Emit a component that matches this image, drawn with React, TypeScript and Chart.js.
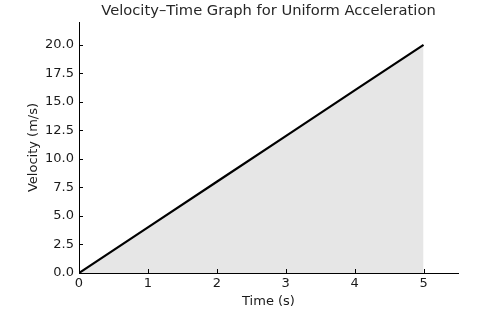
import React, { useEffect, useRef } from "react";
import { Chart, registerables } from "chart.js";

Chart.register(...registerables);

const times = [0, 1, 2, 3, 4, 5];
const velocities = [0, 4, 8, 12, 16, 20];
const xTicks = [0, 1, 2, 3, 4, 5];
const yTicks = [0, 2.5, 5, 7.5, 10, 12.5, 15, 17.5, 20];
const titleText = "Velocity–Time Graph for Uniform Acceleration";
const xLabel = "Time (s)";
const yLabel = "Velocity (m/s)";

const FONT = "'DejaVu Sans', sans-serif";
const TEXT = "#1a1a1a";

const inwardTicks = {
  id: "inwardTicks",
  afterDatasetsDraw(chart: any) {
    const { ctx, chartArea, scales } = chart;
    ctx.save();
    ctx.strokeStyle = "#000";
    ctx.lineWidth = 1;
    ctx.beginPath();
    for (const v of xTicks) {
      const x = Math.round(scales.x.getPixelForValue(v)) + 0.5;
      ctx.moveTo(x, chartArea.bottom);
      ctx.lineTo(x, chartArea.bottom - 4);
    }
    for (const v of yTicks) {
      const y = Math.round(scales.y.getPixelForValue(v)) + 0.5;
      ctx.moveTo(chartArea.left, y);
      ctx.lineTo(chartArea.left + 4, y);
    }
    ctx.stroke();
    ctx.fillStyle = "#262626";
    ctx.font = `14.7px ${FONT}`;
    ctx.textAlign = "center";
    ctx.textBaseline = "middle";
    ctx.fillText(titleText, (chartArea.left + chartArea.right) / 2, 11);
    ctx.restore();
  },
};

export default function App() {
  const ref = useRef<HTMLCanvasElement | null>(null);
  useEffect(() => {
    if (!ref.current) return;
    const chart = new Chart(ref.current, {
      type: "line",
      data: {
        datasets: [
          {
            data: times.map((t, i) => ({ x: t, y: velocities[i] })),
            borderColor: "#000",
            borderWidth: 2.2,
            backgroundColor: "#e6e6e6",
            fill: "origin",
            pointRadius: 0,
            tension: 0,
          },
        ],
      },
      options: {
        responsive: false,
        animation: false,
        layout: { padding: { top: 22, right: 30, left: 0, bottom: 0 } },
        plugins: {
          legend: { display: false },
          title: { display: false },
          tooltip: { enabled: false },
        },
        scales: {
          x: {
            type: "linear",
            min: 0,
            max: 5.5,
            grid: { display: false, drawTicks: false },
            border: { display: true, color: "#000", width: 1 },
            afterBuildTicks: (s: any) => {
              s.ticks = xTicks.map((v) => ({ value: v }));
            },
            afterFit: (s: any) => {
              s.height = 46;
            },
            ticks: {
              padding: 3,
              color: TEXT,
              font: { family: FONT, size: 13 },
              maxRotation: 0,
              callback: (v: any) => String(v),
            },
            title: {
              display: true,
              text: xLabel,
              color: TEXT,
              font: { family: FONT, size: 13 },
              padding: { top: 0, bottom: 10 },
            },
          },
          y: {
            type: "linear",
            min: 0,
            max: 22,
            grid: { display: false, drawTicks: false },
            border: { display: true, color: "#000", width: 1 },
            afterBuildTicks: (s: any) => {
              s.ticks = yTicks.map((v) => ({ value: v }));
            },
            afterFit: (s: any) => {
              s.width = 79;
            },
            ticks: {
              padding: 5,
              color: TEXT,
              font: { family: FONT, size: 13 },
              callback: (v: any) => Number(v).toFixed(1),
            },
            title: {
              display: true,
              text: yLabel,
              color: TEXT,
              font: { family: FONT, size: 13 },
              padding: { top: 26, bottom: 0 },
            },
          },
        },
      },
      plugins: [inwardTicks],
    });
    return () => chart.destroy();
  }, []);
  return (
    <div style={{ position: "absolute", left: 0, top: 0, width: 488, height: 319, background: "#fff" }}>
      <canvas ref={ref} width={488} height={319} style={{ width: 488, height: 319 }} />
    </div>
  );
}
